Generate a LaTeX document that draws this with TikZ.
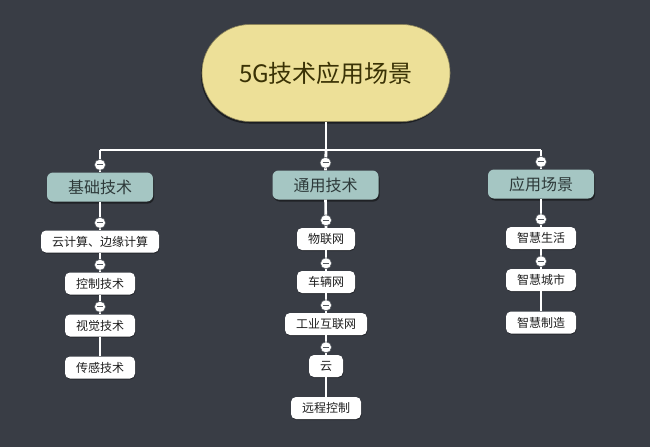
\documentclass[tikz,border=0pt]{standalone}
\usepackage{fontspec}
\setmainfont{Noto Sans CJK SC}
\usetikzlibrary{shadows}
\definecolor{bg}{HTML}{393D45}
\definecolor{rootfill}{HTML}{EDE098}
\definecolor{roottext}{HTML}{3A3205}
\definecolor{lonefill}{HTML}{A5C6C3}
\definecolor{lonetext}{HTML}{2E3A3A}
\definecolor{ltwotext}{HTML}{1E1E1E}
\definecolor{knob}{HTML}{555A60}
\tikzset{
  rootbox/.style={rectangle, rounded corners=48pt, fill=rootfill, draw=rootfill!60!black, line width=0.6pt,
    minimum width=248pt, minimum height=97pt, font=\fontsize{24pt}{27pt}\selectfont, text=roottext,
    drop shadow={shadow xshift=-1pt, shadow yshift=-2pt, opacity=0.5, fill=black}},
  lonebox/.style={rectangle, rounded corners=6pt, fill=lonefill, minimum width=106pt, minimum height=29pt,
    font=\fontsize{16pt}{18pt}\selectfont, text=lonetext, inner sep=0pt,
    drop shadow={shadow xshift=1pt, shadow yshift=-2pt, opacity=0.45, fill=black}},
  ltwobox/.style={rectangle, rounded corners=5pt, fill=white, minimum height=22pt, inner xsep=11pt, inner ysep=0pt,
    font=\fontsize{12pt}{14pt}\selectfont, text=ltwotext,
    drop shadow={shadow xshift=0.5pt, shadow yshift=-1pt, opacity=0.35, fill=black}},
  conn/.style={draw=white, line width=2.8pt},
  subconn/.style={draw=white, line width=2.6pt},
  knobc/.style={circle, fill=white, draw=knob, line width=0.5pt, minimum size=11pt, inner sep=0pt,
    path picture={\draw[knob, line width=1.1pt] ([xshift=-3pt]path picture bounding box.center) -- ([xshift=3pt]path picture bounding box.center);}}
}
\begin{document}
\begin{tikzpicture}[x=1pt, y=-1pt]
\fill[bg] (0,0) rectangle (650,447);
\useasboundingbox (0,0) rectangle (650,447);

% root
\node[rootbox] (root) at (326,73) {5G技术应用场景};

% level 1
\node[lonebox] (a) at (100,187) {基础技术};
\node[lonebox] (b) at (325.5,185) {通用技术};
\node[lonebox] (c) at (541,184) {应用场景};

% level 2
\node[ltwobox] (a1) at (100,241.5) {云计算、边缘计算};
\node[ltwobox] (a2) at (100,283.5) {控制技术};
\node[ltwobox] (a3) at (100,325.5) {视觉技术};
\node[ltwobox] (a4) at (100,367.5) {传感技术};

\node[ltwobox] (b1) at (326,239) {物联网};
\node[ltwobox] (b2) at (326,282) {车辆网};
\node[ltwobox] (b3) at (326,324) {工业互联网};
\node[ltwobox] (b4) at (326,366) {云};
\node[ltwobox] (b5) at (326,408) {远程控制};

\node[ltwobox] (c1) at (541,238) {智慧生活};
\node[ltwobox] (c2) at (541,280) {智慧城市};
\node[ltwobox] (c3) at (541,322.5) {智慧制造};

% bar
\coordinate (barmid) at (root.south |- 0,150);
\coordinate (barl) at (a.north |- barmid);
\coordinate (barr) at (c.north |- barmid);

% connectors
\path[conn] (root.south) -- (barmid);
\path[conn] (barl) -- (barr);
\path[conn] (barl) -- (a.north);
\path[conn] (barmid) -- (b.north);
\path[conn] (barr) -- (c.north);

\path[subconn] (a.south) -- (a1.north);
\path[subconn] (a1.south) -- (a2.north);
\path[subconn] (a2.south) -- (a3.north);
\path[subconn] (a3.south) -- (a4.north);

\path[subconn] (b.south) -- (b1.north);
\path[subconn] (b1.south) -- (b2.north);
\path[subconn] (b2.south) -- (b3.north);
\path[subconn] (b3.south) -- (b4.north);
\path[subconn] (b4.south) -- (b5.north);

\path[subconn] (c.south) -- (c1.north);
\path[subconn] (c1.south) -- (c2.north);
\path[subconn] (c2.south) -- (c3.north);

% collapse knobs
\foreach \n in {a,b,c,a1,a2,a3,b1,b2,b3,b4,c1,c2}{
  \node[knobc] (k\n) at ([yshift=7.5pt]\n.north) {};
}
\end{tikzpicture}
\end{document}
